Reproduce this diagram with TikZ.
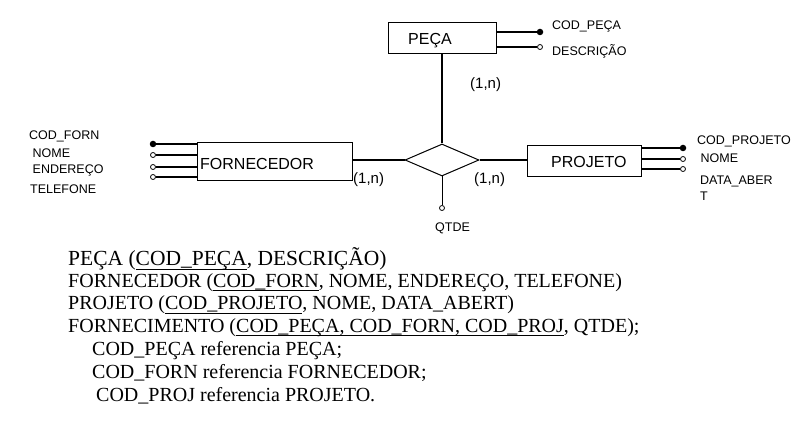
\documentclass[tikz,border=0pt]{standalone}
\usepackage{fontspec}
\setmainfont{Liberation Serif}
\newfontfamily\diagfont{Liberation Sans}
\usetikzlibrary{shapes.geometric}
\newcommand\myul[1]{\setbox0\hbox{#1}\rlap{\rule[-3.6pt]{\wd0}{0.9pt}}\box0}
\tikzset{
  entity/.style={draw, line width=1pt, inner sep=0pt},
  enttext/.style={font=\diagfont\fontsize{16}{16}\selectfont, inner sep=0pt, anchor=base west},
  relship/.style={draw, diamond, line width=1pt, inner sep=0pt, minimum width=74pt, minimum height=32pt},
  keydot/.style={circle, fill=black, inner sep=0pt, minimum size=6.5pt},
  attdot/.style={circle, draw=black, line width=0.8pt, fill=white, inner sep=0pt, minimum size=5pt},
  conn/.style={line width=2.2pt},
  aline/.style={line width=1.2pt},
  attlbl/.style={font=\diagfont\fontsize{12.5}{13}\selectfont, inner sep=0pt, anchor=base west},
  card/.style={font=\diagfont\fontsize{15}{15}\selectfont, inner sep=0pt, anchor=base west},
  schema/.style={font=\fontsize{20}{22}\selectfont, inner sep=0pt, anchor=base west},
}
\begin{document}
\begin{tikzpicture}[x=1pt,y=-1pt]
\useasboundingbox (0,0) rectangle (807,422);

% entities
\node[entity, minimum width=108pt, minimum height=31pt] (peca) at (442,38.5) {};
\node[enttext] (pecat) at (408,45) {PEÇA};
\node[entity, minimum width=155pt, minimum height=38pt] (forn) at (274.5,162) {};
\node[enttext] (fornt) at (200,170) {FORNECEDOR};
\node[entity, minimum width=114pt, minimum height=31pt] (proj) at (584,161.5) {};
\node[enttext] (projt) at (551,168) {PROJETO};

% relationship
\node[relship] (rel) at (442,160) {};

% connectors
\draw[conn] (rel.north) -- (rel.north |- peca.south);
\draw[conn] (rel.west) -- (rel.west -| forn.east);
\draw[conn] (rel.east) -- (rel.east -| proj.west);

% PECA attributes
\node[keydot] (pa1) at (540,32) {};
\node[attdot] (pa2) at (540,47) {};
\draw[aline] (pa1) -- (pa1 -| peca.east);
\draw[aline] (pa2) -- (pa2 -| peca.east);
\node[attlbl] (pl1) at (552,30) {COD\_PEÇA};
\node[attlbl] (pl2) at (552,56) {DESCRIÇÃO};

% FORNECEDOR attributes
\node[keydot] (fa1) at (153,144) {};
\node[attdot] (fa2) at (153,155) {};
\node[attdot] (fa3) at (153,167) {};
\node[attdot] (fa4) at (153,177) {};
\draw[aline] (fa1) -- (fa1 -| forn.west);
\draw[aline] (fa2) -- (fa2 -| forn.west);
\draw[aline] (fa3) -- (fa3 -| forn.west);
\draw[aline] (fa4) -- (fa4 -| forn.west);
\node[attlbl] (fl1) at (29,140) {COD\_FORN};
\node[attlbl] (fl2) at (32.5,157.5) {NOME};
\node[attlbl] (fl3) at (32.5,174) {ENDEREÇO};
\node[attlbl] (fl4) at (30,194) {TELEFONE};

% PROJETO attributes
\node[keydot] (ja1) at (683,148) {};
\node[attdot] (ja2) at (683,159) {};
\node[attdot] (ja3) at (683,169) {};
\draw[aline] (ja1) -- (ja1 -| proj.east);
\draw[aline] (ja2) -- (ja2 -| proj.east);
\draw[aline] (ja3) -- (ja3 -| proj.east);
\node[attlbl] (jl1) at (697,145) {COD\_PROJETO};
\node[attlbl] (jl2) at (700.5,162.5) {NOME};
\node[attlbl] (jl3) at (700,185) {DATA\_ABER};
\node[attlbl] (jl4) at (700,200.5) {T};

% relationship attribute
\node[attdot] (qd) at (442,208) {};
\draw[line width=1pt] (qd) -- (rel.south);
\node[attlbl] (ql) at (435,232) {QTDE};

% cardinalities
\node[card] (c1) at (470,89) {(1,n)};
\node[card] (c2) at (353,184) {(1,n)};
\node[card] (c3) at (474,184) {(1,n)};

% relational schema
\node[schema, font=\fontsize{21.5}{23}\selectfont] (s1) at (68,266) {PEÇA (\myul{COD\_PEÇA}, DESCRIÇÃO)};
\node[schema] (s2) at (68,287.5) {FORNECEDOR (\myul{COD\_FORN}, NOME, ENDEREÇO, TELEFONE)};
\node[schema] (s3) at (68,310) {PROJETO (\myul{COD\_PROJETO}, NOME, DATA\_ABERT)};
\node[schema] (s4) at (68,332.5) {FORNECIMENTO (\myul{COD\_PEÇA, COD\_FORN, COD\_PROJ}, QTDE);};
\node[schema] (s5) at (92,356) {COD\_PEÇA referencia PEÇA;};
\node[schema] (s6) at (92,379) {COD\_FORN referencia FORNECEDOR;};
\node[schema] (s7) at (96,402) {COD\_PROJ referencia PROJETO.};
\end{tikzpicture}
\end{document}
